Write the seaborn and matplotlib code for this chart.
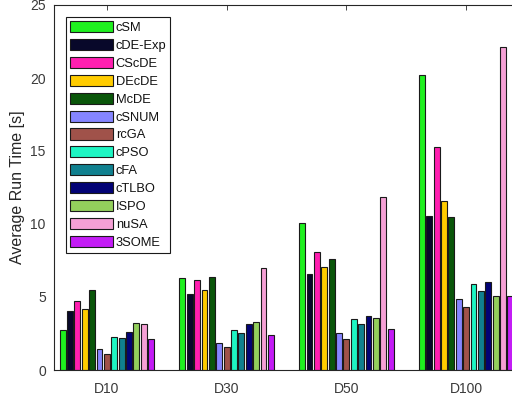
import matplotlib
matplotlib.use("Agg")
import matplotlib.pyplot as plt
import seaborn as sns
import pandas as pd

# Problem dimensions (x groups)
dimensions = ["D10", "D30", "D50", "D100"]

# Algorithms (hue order) and their bar colours
algorithms = ["cSM", "cDE-Exp", "CScDE", "DEcDE", "McDE", "cSNUM", "rcGA",
              "cPSO", "cFA", "cTLBO", "ISPO", "nuSA", "3SOME"]
colors = ["#1ff01f", "#08082a", "#ff1fb0", "#ffcc00", "#0a560a", "#8585ff",
          "#a0524a", "#1ef5c3", "#10808f", "#020275", "#93cf5c", "#f5a0d5",
          "#c31cf5"]

# Average run time [s] per algorithm, one value per dimension
cSM = [2.72, 6.28, 10.05, 20.2]
cDE_Exp = [4.05, 5.22, 6.6, 10.58]
CScDE = [4.7, 6.15, 8.08, 15.28]
DEcDE = [4.17, 5.5, 7.04, 11.55]
McDE = [5.5, 6.37, 7.57, 10.49]
cSNUM = [1.45, 1.84, 2.56, 4.84]
rcGA = [1.13, 1.59, 2.1, 4.3]
cPSO = [2.26, 2.77, 3.5, 5.87]
cFA = [2.17, 2.56, 3.15, 5.39]
cTLBO = [2.63, 3.13, 3.73, 6.01]
ISPO = [3.22, 3.29, 3.57, 5.06]
nuSA = [3.13, 6.97, 11.82, 22.15]
SOME3 = [2.12, 2.39, 2.84, 5.06]

series = [cSM, cDE_Exp, CScDE, DEcDE, McDE, cSNUM, rcGA,
          cPSO, cFA, cTLBO, ISPO, nuSA, SOME3]

rows = []
for name, vals in zip(algorithms, series):
    for dim, v in zip(dimensions, vals):
        rows.append({"dim": dim, "algo": name, "time": v})
df = pd.DataFrame(rows)

sns.set_theme(style="white")
plt.rcParams["font.family"] = ["Liberation Sans", "DejaVu Sans"]

W, H = 512, 399
fig = plt.figure(figsize=(W / 100, H / 100), dpi=100)
left, right, top, bottom = 53.5, 519.5, 5, 370
ax = fig.add_axes([left / W, 1 - bottom / H, (right - left) / W, (bottom - top) / H])

sns.barplot(data=df, x="dim", y="time", hue="algo", order=dimensions,
            hue_order=algorithms, palette=colors, saturation=1,
            width=0.8, gap=0.2, edgecolor="#1a1a1a", linewidth=0.8,
            errorbar=None, ax=ax)

ax.set_xlim(-0.446, 3.446)
ax.set_ylim(0, 25)
ax.set_yticks([0, 5, 10, 15, 20, 25])
ax.set_xlabel("")
ax.set_ylabel("Average Run Time [s]", fontsize=11.5, color="#262626")

spine_color = "#262626"
for s in ax.spines.values():
    s.set_visible(True)
    s.set_color(spine_color)
    s.set_linewidth(0.8)

ax.tick_params(axis="y", direction="in", length=3.3, width=0.6, color=spine_color,
               labelsize=10, labelcolor="#3a3a3a", pad=5.5, right=True)
ax.tick_params(axis="x", direction="in", length=3.3, width=0.6, color=spine_color,
               labelsize=10, labelcolor="#3a3a3a", pad=8.5, top=True)

handles, labels = ax.get_legend_handles_labels()
leg = ax.legend(handles, labels, loc="upper left", bbox_to_anchor=(0.027, 0.967),
                borderaxespad=0, fontsize=9.3, frameon=True, fancybox=False,
                framealpha=1, edgecolor="#1a1a1a", handlelength=3.3,
                handleheight=0.95, handletextpad=0.25, labelspacing=0.38,
                borderpad=0.3)
leg.get_frame().set_linewidth(0.8)
for t in leg.get_texts():
    t.set_color("#111111")

fig.savefig("out.png", dpi=100)
